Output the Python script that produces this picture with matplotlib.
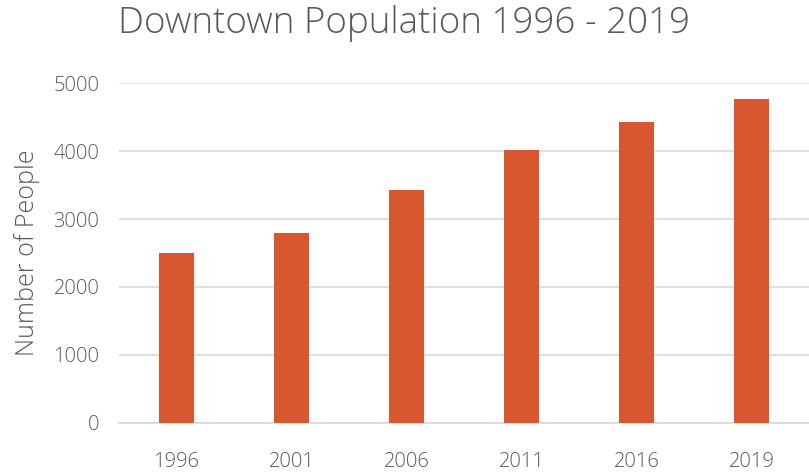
import matplotlib.pyplot as plt

years = ["1996", "2001", "2006", "2011", "2016", "2019"]
people = [2500, 2800, 3430, 4010, 4420, 4760]

plt.rcParams['font.family'] = ['Open Sans', 'DejaVu Sans']
grey = "#595959"

fig = plt.figure(figsize=(8.09, 4.72), dpi=100)
ax = fig.add_axes([0.147, 0.104, 0.853, 0.72])

ax.bar(range(len(years)), people, width=0.31, color="#D9572F", zorder=3)

ax.set_xlim(-0.5, len(years) - 0.5)
ax.set_ylim(0, 5000)
ax.set_yticks([0, 1000, 2000, 3000, 4000, 5000])
ax.set_xticks(range(len(years)))
ax.set_xticklabels(years)
ax.grid(axis="y", color="#d9d9d9", linewidth=1.2, zorder=0)

for s in ["top", "right", "left"]:
    ax.spines[s].set_visible(False)
ax.spines["bottom"].set_color("#d9d9d9")
ax.spines["bottom"].set_linewidth(1.2)
ax.tick_params(length=0, colors=grey, labelsize=14.5)
ax.tick_params(axis="x", pad=21)
ax.tick_params(axis="y", pad=14)
for lab in ax.get_xticklabels() + ax.get_yticklabels():
    lab.set_fontweight("light")

ax.set_ylabel("Number of People", fontsize=18, color=grey, fontweight="light", labelpad=10)
fig.suptitle("Downtown Population 1996 - 2019", x=0.5, y=0.99, fontsize=26.5,
             color=grey, fontweight="light")

plt.savefig("out.png")
plt.close()
